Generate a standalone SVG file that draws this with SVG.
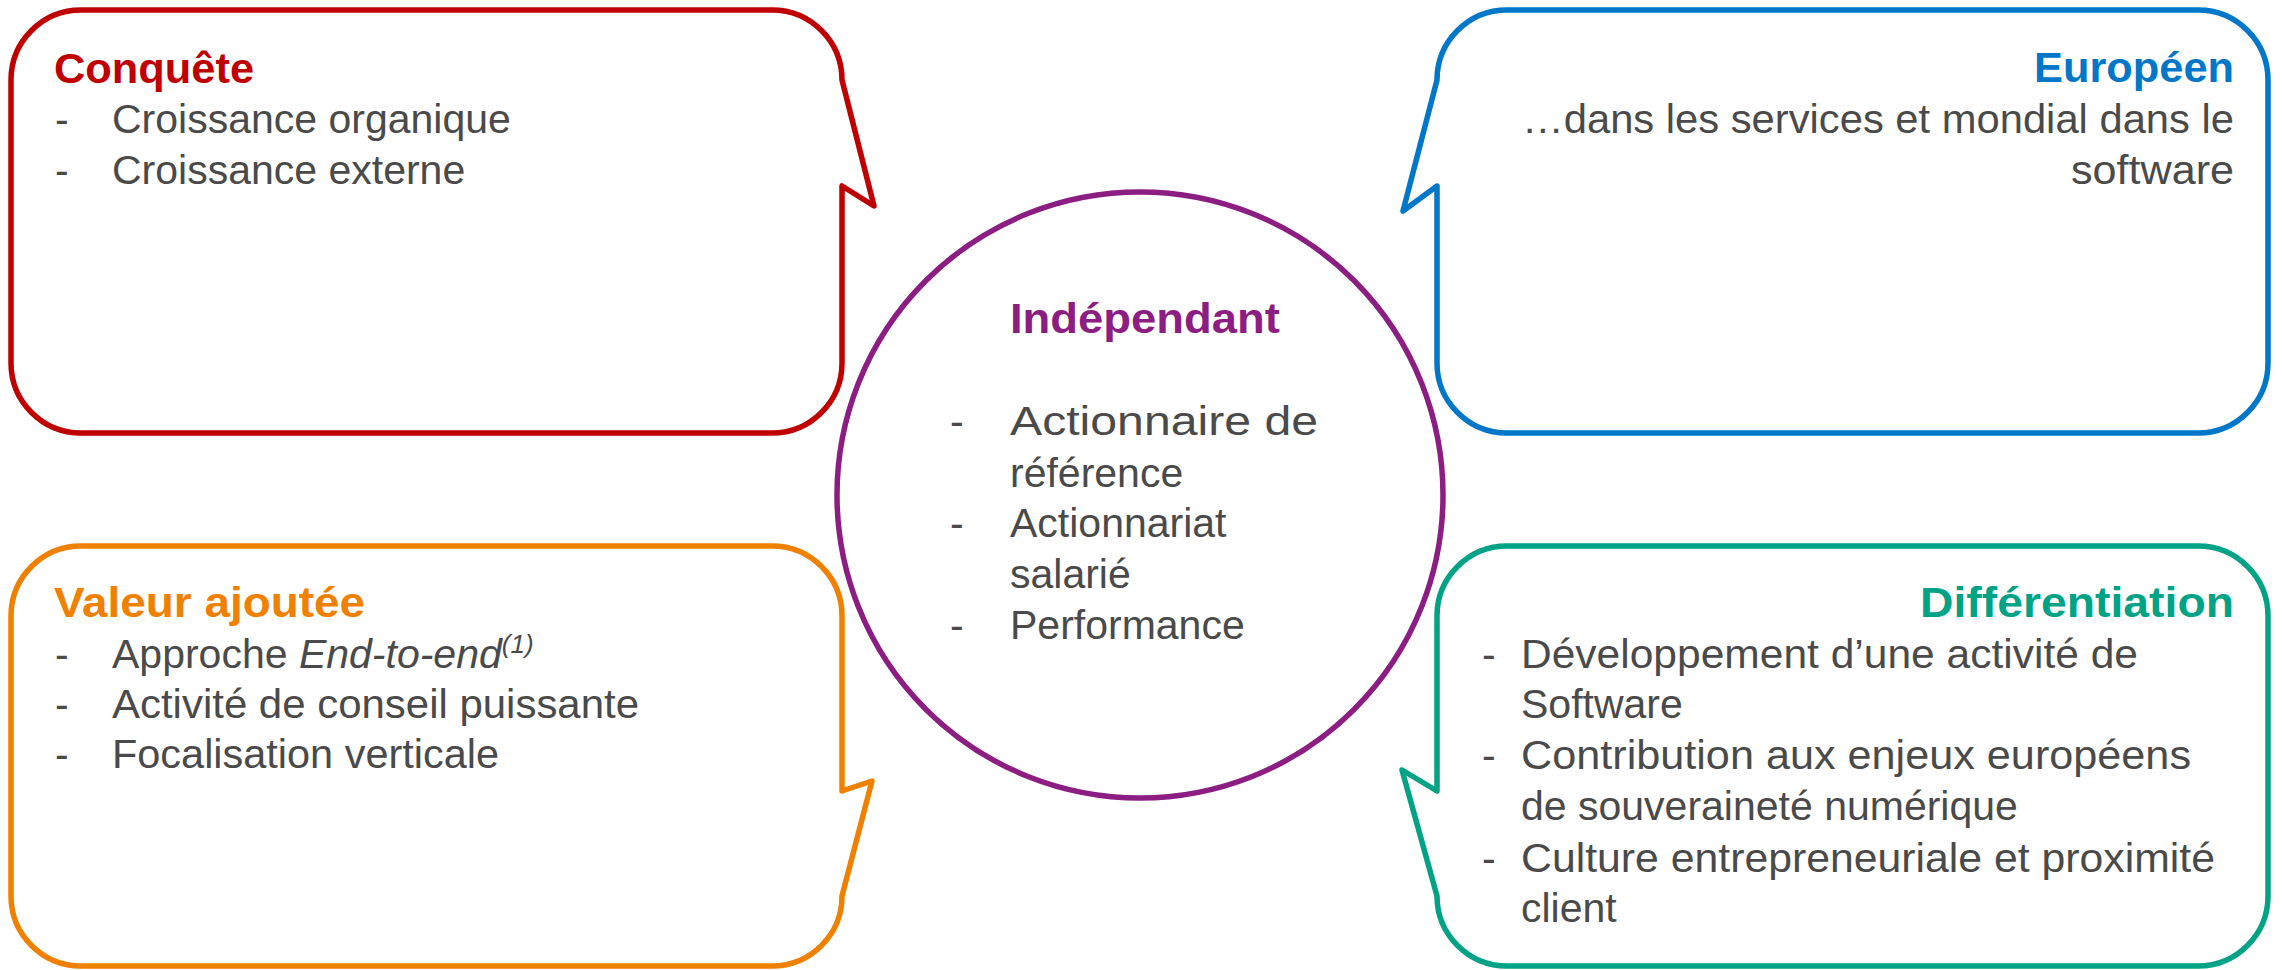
<svg xmlns="http://www.w3.org/2000/svg" width="2282" height="970" viewBox="0 0 2282 970">
<style>
.box{fill:#fff;stroke-width:5.5;stroke-linejoin:round}
.t{font-family:"Liberation Sans",Arial,sans-serif;font-size:41px;fill:#4a4a4a}
.h{font-family:"Liberation Sans",Arial,sans-serif;font-size:42px;font-weight:bold}
</style>
<rect width="2282" height="970" fill="#fff"/>
<g id="conquete">
<path class="box" stroke="#C00000" d="M81,10 H772 A70,70 0 0 1 842,80 L874,206 L842,186 V363 A70,70 0 0 1 772,433 H81 A70,70 0 0 1 11,363 V80 A70,70 0 0 1 81,10 Z"/>
<text class="h" x="54" y="83" fill="#C00000" textLength="200" lengthAdjust="spacingAndGlyphs">Conquête</text>
<text class="t" x="55" y="133">-</text><text class="t" x="112" y="133">Croissance organique</text>
<text class="t" x="55" y="184">-</text><text class="t" x="112" y="184">Croissance externe</text>
</g>
<g id="europeen">
<path class="box" stroke="#0077C8" d="M1507,10 H2198 A70,70 0 0 1 2268,80 V363 A70,70 0 0 1 2198,433 H1507 A70,70 0 0 1 1437,363 V186 L1403,211 L1437,80 A70,70 0 0 1 1507,10 Z"/>
<text class="h" x="2034" y="82" fill="#0077C8" textLength="200" lengthAdjust="spacingAndGlyphs">Européen</text>
<text class="t" x="1522" y="133" textLength="712" lengthAdjust="spacingAndGlyphs">…dans les services et mondial dans le</text>
<text class="t" x="2071" y="184" textLength="163" lengthAdjust="spacingAndGlyphs">software</text>
</g>
<g id="valeur">
<path class="box" stroke="#F08000" d="M81,546 H772 A70,70 0 0 1 842,616 V791 L872,781 L842,896 A70,70 0 0 1 772,966 H81 A70,70 0 0 1 11,896 V616 A70,70 0 0 1 81,546 Z"/>
<text class="h" x="54" y="617" fill="#F08000" textLength="311" lengthAdjust="spacingAndGlyphs">Valeur ajoutée</text>
<text class="t" x="55" y="668">-</text><text class="t" x="112" y="668">Approche <tspan font-style="italic">End-to-end</tspan><tspan font-style="italic" font-size="26" dy="-15">(1)</tspan></text>
<text class="t" x="55" y="718">-</text><text class="t" x="112" y="718" textLength="527" lengthAdjust="spacingAndGlyphs">Activité de conseil puissante</text>
<text class="t" x="55" y="768">-</text><text class="t" x="112" y="768" textLength="387" lengthAdjust="spacingAndGlyphs">Focalisation verticale</text>
</g>
<g id="differentiation">
<path class="box" stroke="#00A386" d="M1507,546 H2198 A70,70 0 0 1 2268,616 V896 A70,70 0 0 1 2198,966 H1507 A70,70 0 0 1 1437,896 L1402,770 L1437,791 V616 A70,70 0 0 1 1507,546 Z"/>
<text class="h" x="1920" y="617" fill="#00A386" textLength="314" lengthAdjust="spacingAndGlyphs">Différentiation</text>
<text class="t" x="1482" y="668">-</text><text class="t" x="1521" y="668" textLength="617" lengthAdjust="spacingAndGlyphs">Développement d’une activité de</text>
<text class="t" x="1521" y="718">Software</text>
<text class="t" x="1482" y="769">-</text><text class="t" x="1521" y="769" textLength="670" lengthAdjust="spacingAndGlyphs">Contribution aux enjeux européens</text>
<text class="t" x="1521" y="820">de souveraineté numérique</text>
<text class="t" x="1482" y="872">-</text><text class="t" x="1521" y="872" textLength="694" lengthAdjust="spacingAndGlyphs">Culture entrepreneuriale et proximité</text>
<text class="t" x="1521" y="922">client</text>
</g>
<g id="independant">
<circle cx="1140" cy="495" r="303" fill="none" stroke="#8C1D82" stroke-width="5.5"/>
<text class="h" x="1010" y="333" fill="#8C1D82" font-size="44" textLength="270" lengthAdjust="spacingAndGlyphs">Indépendant</text>
<text class="t" x="950" y="435">-</text><text class="t" x="1010" y="435" textLength="308" lengthAdjust="spacingAndGlyphs">Actionnaire de</text>
<text class="t" x="1010" y="487">référence</text>
<text class="t" x="950" y="537">-</text><text class="t" x="1010" y="537">Actionnariat</text>
<text class="t" x="1010" y="588">salarié</text>
<text class="t" x="950" y="639">-</text><text class="t" x="1010" y="639">Performance</text>
</g>
<g id="connectors"/>
</svg>
